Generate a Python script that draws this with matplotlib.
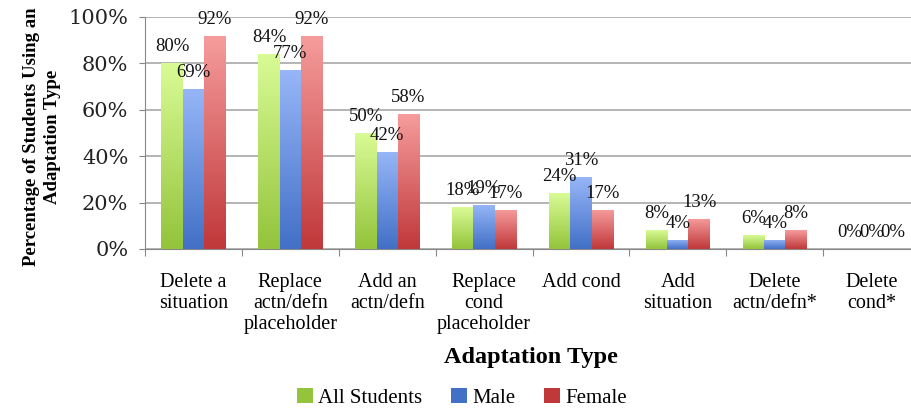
import numpy as np
import matplotlib
matplotlib.use("Agg")
import matplotlib.pyplot as plt
from matplotlib.colors import LinearSegmentedColormap
from matplotlib.font_manager import FontProperties
from matplotlib.ticker import FuncFormatter

categories = [
    "Delete a\nsituation",
    "Replace\nactn/defn\nplaceholder",
    "Add an\nactn/defn",
    "Replace\ncond\nplaceholder",
    "Add cond",
    "Add\nsituation",
    "Delete\nactn/defn*",
    "Delete\ncond*",
]
all_students = [80, 84, 50, 18, 24, 8, 6, 0]
male = [69, 77, 42, 19, 31, 4, 4, 0]
female = [92, 92, 58, 17, 17, 13, 8, 0]
series_names = ["All Students", "Male", "Female"]

# (light top, dark bottom) gradient per series
gradients = [("#d9fb95", "#93c43b"), ("#97b6f8", "#4270c6"), ("#f69c9c", "#c0383a")]

SERIF = "Liberation Serif"

fig = plt.figure(figsize=(9.11, 4.09), dpi=100)
ax = fig.add_axes([145 / 911, 160 / 409, 775 / 911, 232 / 409])

x = np.arange(len(categories))
width = 0.22
series = [all_students, male, female]

for i, (vals, name, (top, bot)) in enumerate(zip(series, series_names, gradients)):
    xs = x + (i - 1) * width
    heights = np.array(vals) / 100.0
    bars = ax.bar(xs, heights, width, color="none", edgecolor="none", zorder=3, label=name)
    cmap = LinearSegmentedColormap.from_list(name, [bot, top])
    grad = np.linspace(0, 1, 128).reshape(-1, 1)
    for b, h in zip(bars, heights):
        if h <= 0:
            continue
        x0 = b.get_x()
        im = ax.imshow(grad, cmap=cmap, origin="lower", aspect="auto",
                       extent=[x0, x0 + b.get_width(), 0, h], zorder=3)
        im.set_clip_path(b)
    for xi, v in zip(xs, vals):
        ax.annotate(f"{v}%", (xi, v / 100.0), xytext=(0, 12), textcoords="offset pixels",
                    ha="center", va="baseline", fontsize=13.5, family=SERIF,
                    color="#111111", zorder=5)

# legend swatches
handles = [plt.Rectangle((0, 0), 1, 1, facecolor=bot, edgecolor="none")
           for _, bot in gradients]

ax.set_xlim(-0.5, len(categories) - 0.5)
ax.set_ylim(0, 1.0)
ax.set_yticks(np.arange(0, 1.01, 0.2))
ax.yaxis.set_major_formatter(FuncFormatter(lambda v, p: f"{v*100:.0f}%"))
ax.grid(axis="y", color="#a8a8a8", linewidth=1.2, zorder=0)
ax.set_axisbelow(True)

ax.set_xticks(np.arange(-0.5, len(categories), 1.0))
ax.set_xticklabels([])
ax.set_xticks(x, minor=True)
ax.set_xticklabels(categories, minor=True, family=SERIF, fontsize=14.5,
                   linespacing=1.15, va="top", color="black")
ax.tick_params(axis="x", which="minor", length=0, pad=17)
ax.tick_params(axis="x", which="major", length=5, color="#888888", direction="out")
ax.tick_params(axis="y", length=4, color="#888888", pad=8)
for lab in ax.get_yticklabels():
    lab.set_family("DejaVu Serif")
    lab.set_fontsize(15)
    lab.set_color("#222222")

for s in ["top", "right"]:
    ax.spines[s].set_visible(False)
ax.spines["left"].set_color("#888888")
ax.spines["bottom"].set_color("#888888")

fig.text(42 / 911, 1 - 137 / 409, "Percentage of Students Using an\nAdaptation Type",
         rotation=90, ha="center", va="center", family=SERIF, fontweight="bold",
         fontsize=13.5, linespacing=1.35)
fig.text(531 / 911, 1 - 358 / 409, "Adaptation Type", ha="center", va="center",
         family=SERIF, fontweight="bold", fontsize=17.5)

fig.legend(handles, series_names, loc="center", bbox_to_anchor=(462 / 911, 1 - 398 / 409),
           ncol=3, frameon=False, prop=FontProperties(family=SERIF, size=15),
           handlelength=0.75, handleheight=0.75, handletextpad=0.25, columnspacing=1.4,
           borderaxespad=0, borderpad=0.1)

fig.savefig("out.png", dpi=100)
